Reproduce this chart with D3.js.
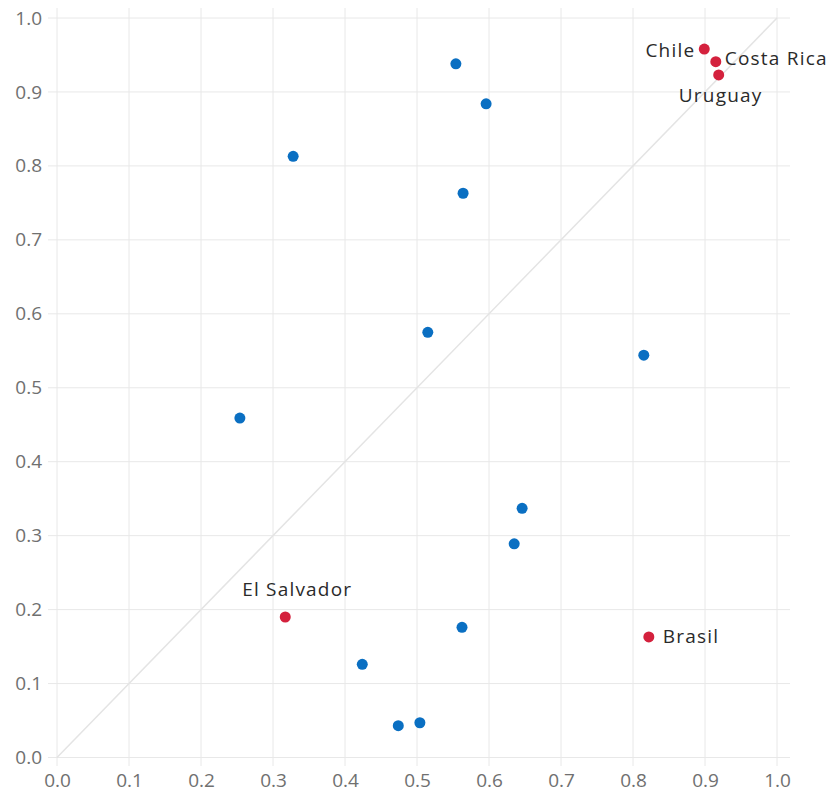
<!DOCTYPE html>
<html>
<head>
<meta charset="utf-8">
<script src="https://cdn.jsdelivr.net/npm/d3@7"></script>
<style>
html,body{margin:0;padding:0;background:#fff;}
svg{display:block;}
</style>
</head>
<body>
<svg id="chart" width="832" height="796"></svg>
<script>
// Data
const blueX = [0.554, 0.596, 0.328, 0.564, 0.515, 0.815, 0.254, 0.646, 0.635, 0.5625, 0.424, 0.474, 0.504];
const blueY = [0.938, 0.884, 0.813, 0.763, 0.575, 0.544, 0.459, 0.337, 0.289, 0.176, 0.126, 0.043, 0.047];
const redNames = ["Chile", "Costa Rica", "Uruguay", "El Salvador", "Brasil"];
const redX = [0.899, 0.915, 0.919, 0.317, 0.822];
const redY = [0.958, 0.941, 0.923, 0.190, 0.163];
const ticks = [0, 0.1, 0.2, 0.3, 0.4, 0.5, 0.6, 0.7, 0.8, 0.9, 1.0];

const svg = d3.select("#chart");
const x = d3.scaleLinear().domain([0, 1]).range([57, 777]);
const y = d3.scaleLinear().domain([0, 1]).range([757.5, 18]);

// gridlines
const grid = svg.append("g");
grid.selectAll("line.h").data(ticks).join("line")
  .attr("x1", 48).attr("x2", 790)
  .attr("y1", d => y(d)).attr("y2", d => y(d))
  .attr("stroke", "#e8e8e8").attr("stroke-width", 1);
grid.selectAll("line.v").data(ticks).join("line")
  .attr("y1", 8).attr("y2", 766)
  .attr("x1", d => x(d)).attr("x2", d => x(d))
  .attr("stroke", "#e8e8e8").attr("stroke-width", 1);

// axes labels
const yAxis = d3.axisLeft(y).tickValues(ticks).tickFormat(d3.format(".1f")).tickSize(0).tickPadding(15);
const xAxis = d3.axisBottom(x).tickValues(ticks).tickFormat(d3.format(".1f")).tickSize(0).tickPadding(16);
const gy = svg.append("g").attr("transform", `translate(${x(0)},0)`).call(yAxis);
const gx = svg.append("g").attr("transform", `translate(0,${y(0)})`).call(xAxis);
[gx, gy].forEach(g => {
  g.select(".domain").remove();
  g.selectAll("text").attr("fill", "#707070").style("font-family", "'Open Sans', sans-serif").style("font-size", "19px");
});

// diagonal
svg.append("line")
  .attr("x1", x(0)).attr("y1", y(0)).attr("x2", x(1)).attr("y2", y(1))
  .attr("stroke", "#e4e4e4").attr("stroke-width", 1.5);

// blue points
const blue = blueX.map((v, i) => ({x: v, y: blueY[i]}));
svg.append("g").selectAll("circle").data(blue).join("circle")
  .attr("cx", d => x(d.x)).attr("cy", d => y(d.y)).attr("r", 5.5)
  .attr("fill", "#0a6fc2");

// red points
const red = redNames.map((n, i) => ({name: n, x: redX[i], y: redY[i]}));
svg.append("g").selectAll("circle").data(red).join("circle")
  .attr("cx", d => x(d.x)).attr("cy", d => y(d.y)).attr("r", 5.5)
  .attr("fill", "#d4213d");

// label placement (style)
const place = {
  "Chile": {dx: -9, dy: 8, anchor: "end"},
  "Costa Rica": {dx: 9, dy: 3, anchor: "start"},
  "Uruguay": {dx: 2, dy: 27, anchor: "middle"},
  "El Salvador": {dx: 12, dy: -21, anchor: "middle"},
  "Brasil": {dx: 14, dy: 6, anchor: "start"}
};
svg.append("g").selectAll("text").data(red).join("text")
  .attr("x", d => x(d.x) + place[d.name].dx)
  .attr("y", d => y(d.y) + place[d.name].dy)
  .attr("text-anchor", d => place[d.name].anchor)
  .attr("fill", "#2a2a2a")
  .style("font-family", "'Open Sans', sans-serif")
  .style("font-size", "19px")
  .style("letter-spacing", "1.2px")
  .text(d => d.name);
</script>
</body>
</html>
